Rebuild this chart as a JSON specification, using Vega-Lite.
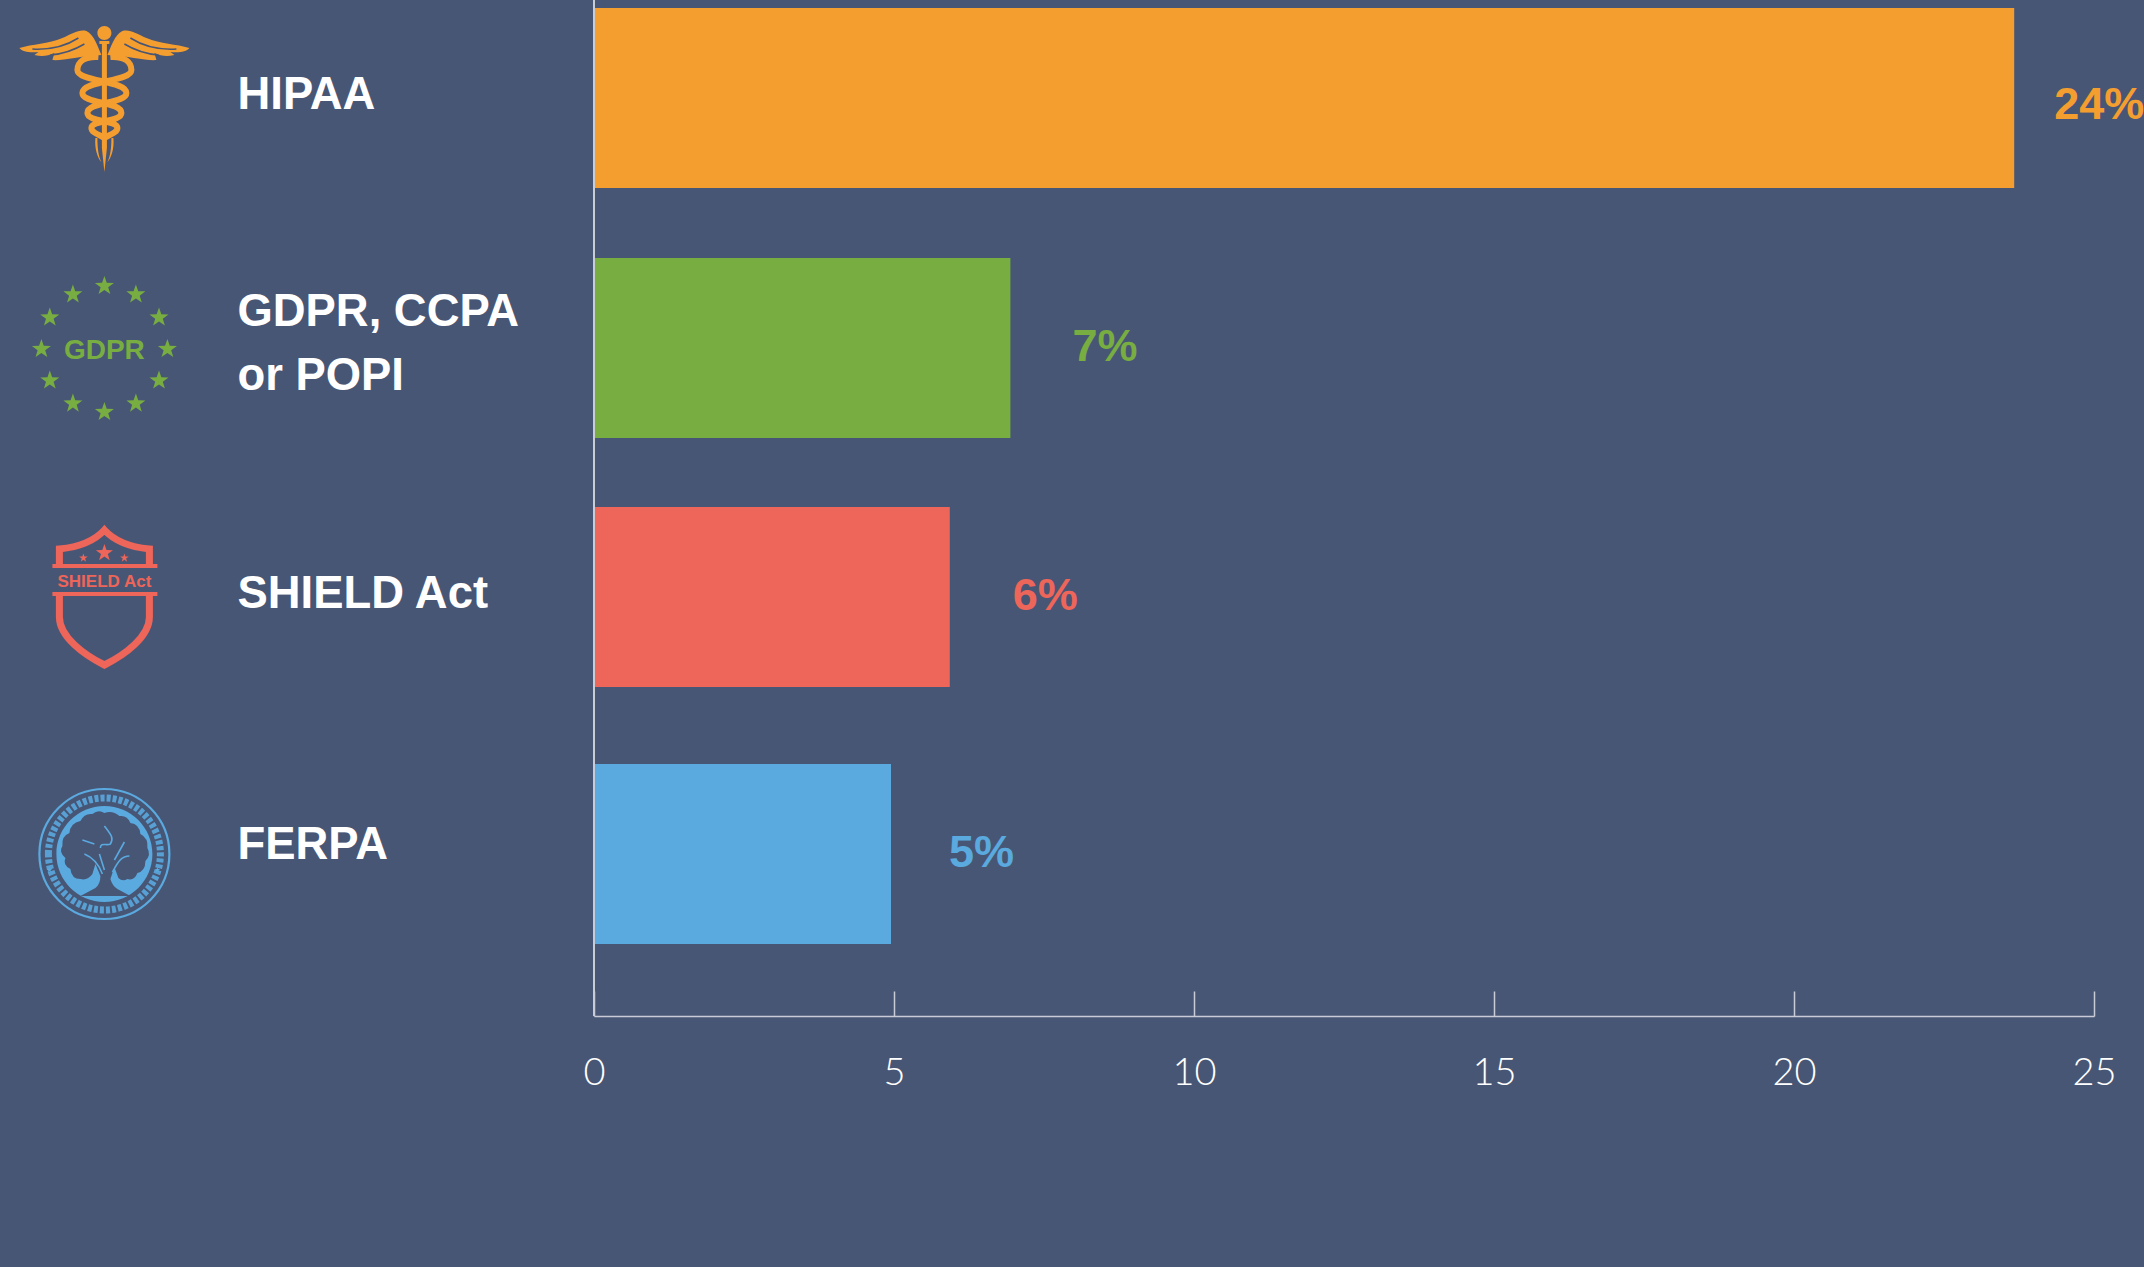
{"$schema":"https://vega.github.io/schema/vega-lite/v6.json","width":1500,"height":1016,"autosize":"none","padding":{"left":594,"top":0,"right":50,"bottom":251},"background":"#485675","view":{"stroke":null},"data":{"values":[{"regulation":"HIPAA","share":23.67,"label":"24%","iconText":""},{"regulation":"GDPR, CCPA or POPI","share":6.94,"label":"7%","iconText":"GDPR"},{"regulation":"SHIELD Act","share":5.93,"label":"6%","iconText":"SHIELD Act"},{"regulation":"FERPA","share":4.95,"label":"5%","iconText":""}]},"resolve":{"scale":{"shape":"independent"}},"encoding":{"y":{"field":"regulation","type":"nominal","sort":null,"scale":{"type":"point","padding":0,"domain":["HIPAA","GDPR, CCPA or POPI","SHIELD Act","FERPA"],"range":[98,854]},"axis":{"title":null,"domain":false,"ticks":false,"labelAlign":"left","labelPadding":357,"labelColor":"#ffffff","labelFontSize":45.4,"labelFont":"Liberation Sans","labelFontWeight":"bold","labelLimit":0,"labelLineHeight":64,"labelOffset":{"expr":"datum.label=='FERPA'?-10:datum.label=='HIPAA'?-4:datum.label=='SHIELD Act'?-9:-39"},"labelExpr":"datum.label=='GDPR, CCPA or POPI'?['GDPR, CCPA','or POPI']:datum.label"}},"color":{"field":"regulation","type":"nominal","legend":null,"scale":{"domain":["HIPAA","GDPR, CCPA or POPI","SHIELD Act","FERPA"],"range":["#f59e30","#77ad41","#ee6559","#5aa9df"]}}},"layer":[{"mark":{"type":"bar","size":180,"yOffset":{"expr":"datum.regulation=='SHIELD Act'?-5:datum.regulation=='GDPR, CCPA or POPI'?-2:0"}},"encoding":{"x":{"field":"share","type":"quantitative","scale":{"domain":[0,25],"nice":false},"axis":{"title":null,"grid":false,"values":[0,5,10,15,20,25],"format":"d","labelFlush":false,"tickSize":-25,"tickColor":"#c9ccd6","tickWidth":1.5,"domainColor":"#c9ccd6","domainWidth":1.5,"labelColor":"#ffffff","labelFont":"Lato","labelFontWeight":300,"labelFontSize":38,"labelPadding":63}}}},{"mark":{"type":"rule","color":"#c9ccd6","strokeWidth":1.5},"encoding":{"x":{"datum":0},"y":null,"color":null}},{"mark":{"type":"text","align":"left","baseline":"middle","font":"Liberation Sans","fontWeight":"bold","fontSize":45,"dx":40,"xOffset":{"expr":"datum.regulation=='GDPR, CCPA or POPI'?22:datum.regulation=='SHIELD Act'?23:datum.regulation=='FERPA'?18:0"},"yOffset":{"expr":"datum.regulation=='SHIELD Act'?-6:datum.regulation=='GDPR, CCPA or POPI'?-3:datum.regulation=='FERPA'?-1:7"}},"encoding":{"x":{"field":"share","type":"quantitative"},"text":{"field":"label"}}},{"mark":{"type":"point","filled":true,"size":4,"opacity":1,"strokeWidth":0,"yOffset":{"expr":"datum.regulation=='SHIELD Act'?-5:datum.regulation=='GDPR, CCPA or POPI'?-1:0"}},"encoding":{"x":{"datum":-8.16},"shape":{"field":"regulation","type":"nominal","legend":null,"scale":{"domain":["HIPAA","GDPR, CCPA or POPI","SHIELD Act","FERPA"],"range":["M-3,-43 C-7,-52 -10,-63 -18,-67 C-26,-69 -32,-64 -42,-60 C-56,-54 -72,-54 -85,-50 C-82,-46 -74,-45 -66,-46 L-70,-43 C-62,-41 -57,-42 -50,-45 L-52,-38 C-42,-37 -25,-42 -3,-43 Z M3,-43 C7,-52 10,-63 18,-67 C26,-69 32,-64 42,-60 C56,-54 72,-54 85,-50 C82,-46 74,-45 66,-46 L70,-43 C62,-41 57,-42 50,-45 L52,-38 C42,-37 25,-42 3,-43 Z M-7,-65 A7,7 0 1,1 7,-65 A7,7 0 1,1 -7,-65 Z M-2.5,-56 L2.5,-56 L2.5,50 L0,74 L-2.5,50 Z M-5,-57 L5,-57 L5,-54 L-5,-54 Z M-9,40 L-7,40 C-7,50 -6,58 -3,64 C-7,60 -10,50 -9,40 Z M9,40 L7,40 C7,50 6,58 3,64 C7,60 10,50 9,40 Z","M0,-73 l2.35,6.76 l7.16,0.15 l-5.71,4.33 l2.08,6.85 l-5.88,-4.09 l-5.88,4.09 l2.08,-6.85 l-5.71,-4.33 l7.16,-0.15 z M31.5,-64.6 l2.35,6.76 l7.16,0.15 l-5.71,4.33 l2.08,6.85 l-5.88,-4.09 l-5.88,4.09 l2.08,-6.85 l-5.71,-4.33 l7.16,-0.15 z M54.6,-41.5 l2.35,6.76 l7.16,0.15 l-5.71,4.33 l2.08,6.85 l-5.88,-4.09 l-5.88,4.09 l2.08,-6.85 l-5.71,-4.33 l7.16,-0.15 z M63,-10 l2.35,6.76 l7.16,0.15 l-5.71,4.33 l2.08,6.85 l-5.88,-4.09 l-5.88,4.09 l2.08,-6.85 l-5.71,-4.33 l7.16,-0.15 z M54.6,21.5 l2.35,6.76 l7.16,0.15 l-5.71,4.33 l2.08,6.85 l-5.88,-4.09 l-5.88,4.09 l2.08,-6.85 l-5.71,-4.33 l7.16,-0.15 z M31.5,44.6 l2.35,6.76 l7.16,0.15 l-5.71,4.33 l2.08,6.85 l-5.88,-4.09 l-5.88,4.09 l2.08,-6.85 l-5.71,-4.33 l7.16,-0.15 z M0,53 l2.35,6.76 l7.16,0.15 l-5.71,4.33 l2.08,6.85 l-5.88,-4.09 l-5.88,4.09 l2.08,-6.85 l-5.71,-4.33 l7.16,-0.15 z M-31.5,44.6 l2.35,6.76 l7.16,0.15 l-5.71,4.33 l2.08,6.85 l-5.88,-4.09 l-5.88,4.09 l2.08,-6.85 l-5.71,-4.33 l7.16,-0.15 z M-54.6,21.5 l2.35,6.76 l7.16,0.15 l-5.71,4.33 l2.08,6.85 l-5.88,-4.09 l-5.88,4.09 l2.08,-6.85 l-5.71,-4.33 l7.16,-0.15 z M-63,-10 l2.35,6.76 l7.16,0.15 l-5.71,4.33 l2.08,6.85 l-5.88,-4.09 l-5.88,4.09 l2.08,-6.85 l-5.71,-4.33 l7.16,-0.15 z M-54.6,-41.5 l2.35,6.76 l7.16,0.15 l-5.71,4.33 l2.08,6.85 l-5.88,-4.09 l-5.88,4.09 l2.08,-6.85 l-5.71,-4.33 l7.16,-0.15 z M-31.5,-64.6 l2.35,6.76 l7.16,0.15 l-5.71,4.33 l2.08,6.85 l-5.88,-4.09 l-5.88,4.09 l2.08,-6.85 l-5.71,-4.33 l7.16,-0.15 z","M-52,-33 L53,-33 L53,-29 L-52,-29 Z M-52,-5 L53,-5 L53,-1 L-52,-1 Z M0,-53 l2.1,6.1 l6.4,0.1 l-5.1,3.9 l1.9,6.2 l-5.3,-3.7 l-5.3,3.7 l1.9,-6.2 l-5.1,-3.9 l6.4,-0.1 z M-21,-43.5 l1.06,3.04 l3.22,0.07 l-2.57,1.95 l0.94,3.08 l-2.65,-1.84 l-2.65,1.84 l0.94,-3.08 l-2.57,-1.95 l3.22,-0.07 z M20,-43.5 l1.06,3.04 l3.22,0.07 l-2.57,1.95 l0.94,3.08 l-2.65,-1.84 l-2.65,1.84 l0.94,-3.08 l-2.57,-1.95 l3.22,-0.07 z","M-48,0 A48,48 0 1,1 48,0 A48,48 0 1,1 -48,0 Z M-55,13 l0.7,2 l2.15,0 l-1.7,1.3 l0.6,2.05 l-1.75,-1.2 l-1.75,1.2 l0.6,-2.05 l-1.7,-1.3 l2.15,0 z M53,13 l0.7,2 l2.15,0 l-1.7,1.3 l0.6,2.05 l-1.75,-1.2 l-1.75,1.2 l0.6,-2.05 l-1.7,-1.3 l2.15,0 z"]}}}},{"transform":[{"filter":"datum.regulation=='FERPA'"}],"mark":{"type":"point","filled":true,"size":4,"opacity":1,"strokeWidth":0,"fill":"#485675","shape":"M0,-41 Q8,-44 15,-38 Q23,-39 26,-31 Q35,-30 36,-20 Q44,-16 43,-6 Q47,1 41,7 Q41,17 33,19 Q30,27 23,25 Q18,28 14,24 L10,13 L6,25 Q8,32 13,35 L26,42 L-24,42 L-9,34 Q-4,30 -4,22 L-9,10 L-12,20 Q-17,27 -24,25 Q-33,25 -34,15 Q-42,11 -39,4 Q-46,-2 -42,-8 Q-43,-18 -35,-21 Q-34,-31 -24,-33 Q-20,-41 -12,-40 Q-6,-45 0,-41 Z"},"encoding":{"x":{"datum":-8.16},"color":null}},{"transform":[{"filter":"datum.regulation=='HIPAA'"}],"mark":{"type":"point","filled":false,"size":4,"opacity":1,"strokeWidth":1.5,"stroke":"#485675","shape":"M-72,-49 C-55,-48 -40,-51 -26,-60 M-54,-43 C-42,-44 -30,-48 -20,-54 M72,-49 C55,-48 40,-51 26,-60 M54,-43 C42,-44 30,-48 20,-54"},"encoding":{"x":{"datum":-8.16},"color":null}},{"transform":[{"filter":"datum.regulation=='HIPAA'"}],"mark":{"type":"point","filled":false,"size":4,"opacity":1,"strokeWidth":6,"shape":"M-6,-41 C-20,-42 -27,-36 -27,-28 C-27,-16 22,-18 22,-5 C22,6 -17,3 -17,15 C-17,24 13,22 13,30 C13,35 4,37 0,40 M6,-41 C20,-42 27,-36 27,-28 C27,-16 -22,-18 -22,-5 C-22,6 17,3 17,15 C17,24 -13,22 -13,30 C-13,35 -4,37 0,40"},"encoding":{"x":{"datum":-8.16}}},{"transform":[{"filter":"datum.regulation=='SHIELD Act'"}],"mark":{"type":"point","filled":false,"size":4,"opacity":1,"strokeWidth":7,"yOffset":-5,"shape":"M-45,-31 L-45,-48 C-25,-50 -10,-56 0,-67 C10,-56 25,-50 45,-48 L45,-31 M-45,-3 L-45,20 C-45,40 -20,58 0,68 C20,58 45,40 45,20 L45,-3"},"encoding":{"x":{"datum":-8.16}}},{"transform":[{"filter":"datum.regulation=='FERPA'"}],"mark":{"type":"point","filled":false,"size":4,"opacity":1,"strokeWidth":2.2,"shape":"M-65,0 A65,65 0 1,1 65,0 A65,65 0 1,1 -65,0 Z"},"encoding":{"x":{"datum":-8.16}}},{"transform":[{"filter":"datum.regulation=='FERPA'"}],"mark":{"type":"point","filled":false,"size":4,"opacity":1,"strokeWidth":1.6,"shape":"M-22,-14 L-10,-10 M0,-28 C6,-20 10,-16 6,-10 C2,-8 -4,-12 -4,-6 M20,-12 L10,6 M-20,0 C-10,4 -5,12 -2,20 M25,2 C15,2 12,12 8,18 M-5,0 L0,16"},"encoding":{"x":{"datum":-8.16}}},{"transform":[{"filter":"datum.regulation=='FERPA'"}],"mark":{"type":"point","filled":false,"size":4,"opacity":0.9,"strokeWidth":7,"strokeDash":[4,2],"shape":"M-56,0 A56,56 0 1,1 56,0 A56,56 0 1,1 -56,0 Z"},"encoding":{"x":{"datum":-8.16}}},{"transform":[{"filter":"datum.regulation=='GDPR, CCPA or POPI'"}],"mark":{"type":"text","font":"Liberation Sans","fontWeight":"bold","fontSize":28,"baseline":"middle","align":"center","yOffset":1},"encoding":{"x":{"datum":-8.16},"text":{"field":"iconText"}}},{"transform":[{"filter":"datum.regulation=='SHIELD Act'"}],"mark":{"type":"text","font":"Liberation Sans","fontWeight":"bold","fontSize":17,"baseline":"middle","align":"center","yOffset":-20},"encoding":{"x":{"datum":-8.16},"text":{"field":"iconText"}}}]}
